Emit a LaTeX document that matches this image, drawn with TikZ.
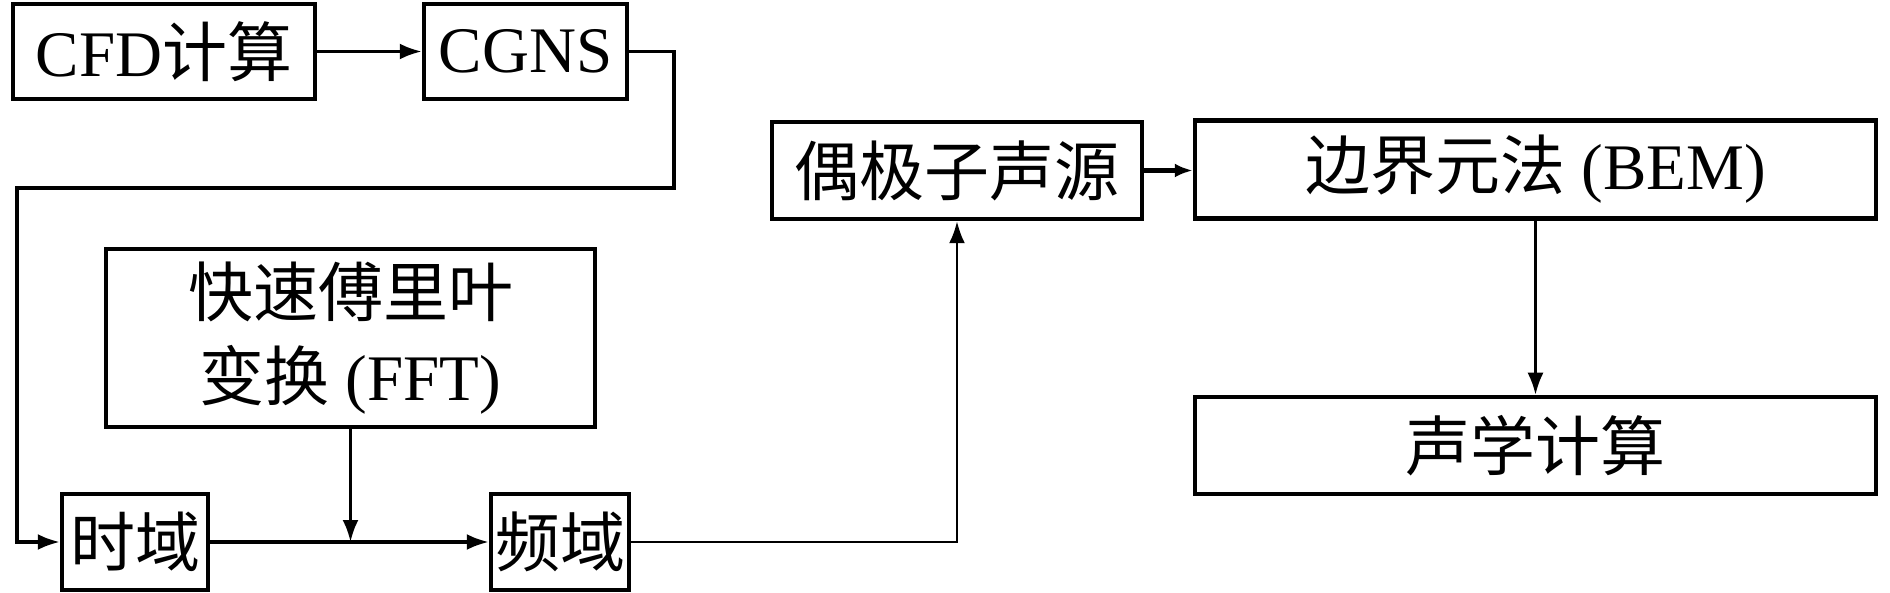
\documentclass[tikz,border=0pt]{standalone}
\usepackage{fontspec}
\setmainfont{Liberation Serif}
\newfontfamily\cjk{Noto Sans CJK SC}
\usetikzlibrary{arrows.meta}
\begin{document}
\begin{tikzpicture}[x=1pt,y=-1pt,
  box/.style={draw, line width=4.5pt, rectangle, inner sep=0pt, anchor=center,
    font=\fontsize{65}{84}\selectfont, align=center},
  conn/.style={line width=3.2pt},
  arr/.style={conn, -{Latex[length=22pt,width=16pt]}}]
\useasboundingbox (0,0) rectangle (1890,593);
\node[box, minimum width=302pt, minimum height=95pt] (cfd) at (164,51.5) {CFD{\cjk 计算}};
\node[box, minimum width=203pt, minimum height=95pt] (cgns) at (525.5,51.5) {CGNS};
\node[box, minimum width=489pt, minimum height=178pt] (fft) at (350.5,338) {{\cjk 快速傅里叶}\\{\cjk 变换} (FFT)};
\node[box, minimum width=146pt, minimum height=96pt] (td) at (135,542) {\cjk 时域};
\node[box, minimum width=138pt, minimum height=96pt] (fd) at (560,542) {\cjk 频域};
\node[box, minimum width=370pt, minimum height=97pt] (dip) at (957,170.5) {\cjk 偶极子声源};
\node[box, minimum width=681pt, minimum height=98pt] (bem) at (1535.5,169.5) {{\cjk 边界元法} (BEM)};
\node[box, minimum width=681pt, minimum height=97pt] (ac) at (1535.5,445.5) {\cjk 声学计算};
\coordinate (tr) at (674,188);
\coordinate (tl) at (17,188);
\draw[arr] (cfd.east) -- (cgns.west);
\draw[arr] (cgns.east) -| (tr) -- (tl) |- (td.west);
\draw[arr] (td.east) -- (fd.west);
\draw[arr] (fft.south) -- (fft.south |- td.east);
\draw[arr, line width=2.6pt] (fd.east) -| (dip.south);
\draw[arr, line width=5pt, -{Latex[length=18pt,width=14pt]}] (dip.east) -- (dip.east -| bem.west);
\draw[arr, line width=2.6pt] (bem.south) -- (ac.north);
\end{tikzpicture}
\end{document}
